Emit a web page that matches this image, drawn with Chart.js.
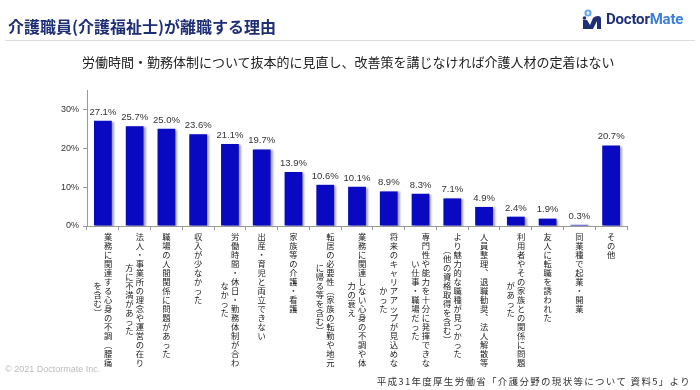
<!DOCTYPE html>
<html lang="ja">
<head>
<meta charset="UTF-8">
<title>介護職員(介護福祉士)が離職する理由</title>
<script src="https://cdn.jsdelivr.net/npm/chart.js"></script>
<style>
    body {
        margin: 0;
        width: 700px;
        height: 390px;
        position: relative;
        overflow: hidden;
        background: #fff;
        font-family: "Noto Sans CJK JP", sans-serif;
    }
    #chartBox { position: absolute; left: 0; top: 0; width: 700px; height: 390px; }
    .title { position: absolute; left: 8px; top: 18px; font-size: 16px; line-height: 16px; font-weight: bold; color: #1f2f75; }
    .rule { position: absolute; left: 5px; right: 5px; top: 40px; border-top: 1px solid #dedede; }
    .logo { position: absolute; left: 581px; top: 9px; }
    .logoText { position: absolute; left: 606px; top: 11px; font-family: Roboto, sans-serif; font-weight: bold; font-size: 15px; line-height: 16px; color: #1f2f75; letter-spacing: -0.2px; }
    .logoText span { color: #3b7fd9; }
    .subtitle { position: absolute; left: 82px; top: 55px; font-size: 13px; line-height: 14px; color: #222; }
    .copy { position: absolute; left: 5px; top: 364px; font-family: "Liberation Sans", sans-serif; font-size: 9px; line-height: 10px; color: #bbb; }
    .source { position: absolute; right: 9px; top: 376px; font-size: 9.5px; line-height: 10px; letter-spacing: 1.3px; color: #333; }
</style>
</head>
<body>
    <div id="chartBox"><canvas id="reasonChart"></canvas></div>

    <div class="title">介護職員(介護福祉士)が離職する理由</div>
    <div class="rule"></div>

    <!-- ロゴ -->
    <svg class="logo" width="22" height="22" viewBox="0 0 22 22">
        <circle cx="7" cy="4" r="3.6" fill="#6aa9e8"/>
        <path d="M5.3 4h3.4M7 2.3v3.4" stroke="#fff" stroke-width="1.2"/>
        <path d="M2 20 L2 11 L6 11 L9 16 L12 9 Q14 7 17 7 Q20 7 20 10 L20 20 L16 20 L16 12 L12 20 Z" fill="#1f2f75"/>
        <circle cx="3.5" cy="9" r="1.8" fill="#1f2f75"/>
    </svg>
    <div class="logoText">Doctor<span>Mate</span></div>

    <div class="subtitle">労働時間・勤務体制について抜本的に見直し、改善策を講じなければ介護人材の定着はない</div>

    <div class="copy">© 2021 Doctormate Inc.</div>
    <div class="source">平成31年度厚生労働省「介護分野の現状等について 資料5」より</div>

<script>
    // 縦書きラベル: 各項目は右から左へ並ぶ列
    const reasons = [
        ['業務に関連する心身の不調（腰痛', 'を含む）'],
        ['法人・事業所の理念や運営の在り', '方に不満があった'],
        ['職場の人間関係に問題があった'],
        ['収入が少なかった'],
        ['労働時間・休日・勤務体制が合わ', 'なかった'],
        ['出産・育児と両立できない'],
        ['家族等の介護・看護'],
        ['転居の必要性（家族の転勤や地元', 'に帰る等を含む）'],
        ['業務に関連しない心身の不調や体', '力の衰え'],
        ['将来のキャリアアップが見込めな', 'かった'],
        ['専門性や能力を十分に発揮できな', 'い仕事・職場だった'],
        ['より魅力的な職種が見つかった', '（他の資格取得を含む）'],
        ['人員整理、退職勧奨、法人解散等'],
        ['利用者やその家族との関係に問題', 'があった'],
        ['友人に転職を誘われた'],
        ['同業種で起業・開業'],
        ['その他']
    ];
    const rates = [27.1, 25.7, 25.0, 23.6, 21.1, 19.7, 13.9, 10.6, 10.1, 8.9, 8.3, 7.1, 4.9, 2.4, 1.9, 0.3, 20.7];
    const yTicks = [0, 10, 20, 30];

    const verticalForms = { '（': '︵', '）': '︶', '、': '︑' };

    // 棒の影と数値ラベル
    const barDecor = {
        id: 'barDecor',
        beforeDatasetsDraw(chart) {
            const ctx = chart.ctx;
            ctx.save();
            ctx.shadowColor = 'rgba(70,70,110,0.5)';
            ctx.shadowOffsetX = 2;
            ctx.shadowOffsetY = 1;
            ctx.shadowBlur = 2;
        },
        afterDatasetsDraw(chart) {
            const ctx = chart.ctx;
            ctx.restore();
            ctx.save();
            ctx.font = '9.5px "Liberation Sans", Arial, sans-serif';
            ctx.fillStyle = '#333';
            ctx.textAlign = 'center';
            ctx.textBaseline = 'bottom';
            chart.getDatasetMeta(0).data.forEach((bar, i) => {
                ctx.fillText(rates[i].toFixed(1) + '%', bar.x, bar.y - 4);
            });
            ctx.restore();
        }
    };

    // x軸の縦書きラベル
    const verticalLabels = {
        id: 'verticalLabels',
        afterDraw(chart) {
            const ctx = chart.ctx;
            const xs = chart.scales.x;
            const pitch = 9;
            const colGap = 10.5;
            const top = chart.chartArea.bottom + 6;
            ctx.save();
            ctx.font = '8.3px "Noto Sans CJK JP", sans-serif';
            ctx.fillStyle = '#222';
            ctx.textAlign = 'center';
            ctx.textBaseline = 'middle';
            chart.data.labels.forEach((cols, i) => {
                const cx = xs.getPixelForValue(i);
                const maxLen = Math.max(...cols.map(c => [...c].length));
                cols.forEach((col, j) => {
                    const chars = [...col];
                    const x = cx + ((cols.length - 1) / 2 - j) * colGap;
                    const start = top + (maxLen - chars.length) * pitch / 2;
                    chars.forEach((ch, k) => {
                        ctx.fillText(verticalForms[ch] || ch, x, start + pitch * (k + 0.5));
                    });
                });
            });
            ctx.restore();
        }
    };

    new Chart(document.getElementById('reasonChart'), {
        type: 'bar',
        data: {
            labels: reasons,
            datasets: [{
                data: rates,
                backgroundColor: '#0909c2',
                barPercentage: 0.56,
                categoryPercentage: 1
            }]
        },
        options: {
            responsive: true,
            maintainAspectRatio: false,
            animation: false,
            layout: { padding: { left: 0, right: 73, top: 90, bottom: 14 } },
            plugins: { legend: { display: false }, tooltip: { enabled: false } },
            scales: {
                x: {
                    ticks: { display: false },
                    grid: { drawOnChartArea: false, tickLength: 4, color: '#999', offset: true },
                    border: { color: '#999' },
                    afterFit: s => { s.height = 150; }
                },
                y: {
                    min: 0,
                    max: 35,
                    afterBuildTicks: s => { s.ticks = yTicks.map(v => ({ value: v })); },
                    ticks: {
                        callback: v => v + '%',
                        font: { size: 9, family: '"Liberation Sans", Arial, sans-serif' },
                        color: '#333',
                        padding: 4
                    },
                    grid: { drawOnChartArea: false, tickLength: 4, color: '#999' },
                    border: { color: '#999' },
                    afterFit: s => { s.width = 87; }
                }
            }
        },
        plugins: [barDecor, verticalLabels]
    });
</script>
</body>
</html>
